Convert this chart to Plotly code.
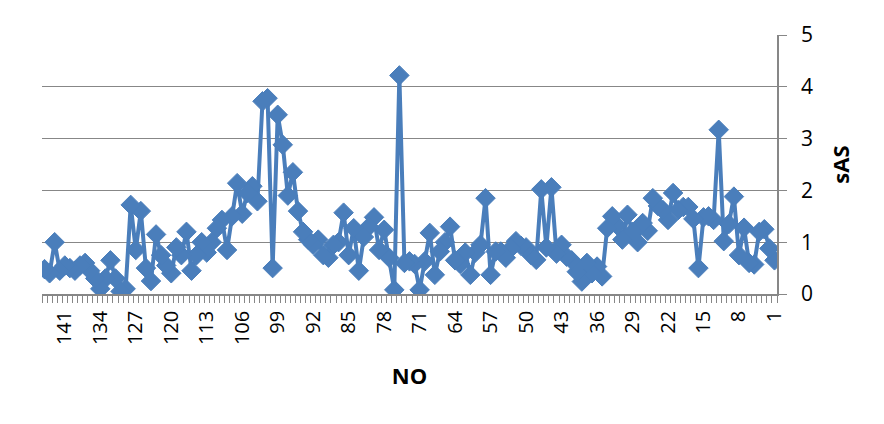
import plotly.graph_objects as go

# Category numbers (NO) and sAS values (NO = 1..145)
no = list(range(1, 146))
sas = [
    0.65, 0.88, 1.25, 1.20, 0.57, 0.60, 1.28, 0.75, 1.88, 1.35,   # 1-10
    1.02, 3.17, 1.43, 1.50, 1.48, 0.50, 1.45, 1.68, 1.68, 1.62,   # 11-20
    1.95, 1.43, 1.62, 1.70, 1.85, 1.22, 1.37, 1.00, 1.20, 1.53,   # 21-30
    1.05, 1.32, 1.50, 1.27, 0.34, 0.53, 0.40, 0.60, 0.24, 0.43,   # 31-40
    0.65, 0.72, 0.95, 0.78, 2.06, 0.90, 2.02, 0.66, 0.75, 0.90,   # 41-50
    0.93, 1.02, 0.88, 0.70, 0.82, 0.82, 0.37, 1.85, 0.95, 0.80,   # 51-60
    0.37, 0.80, 0.58, 0.65, 1.30, 1.00, 0.82, 0.37, 1.18, 0.63,   # 61-70
    0.08, 0.58, 0.63, 0.60, 4.22, 0.08, 0.70, 1.24, 0.85, 1.48,   # 71-80
    1.30, 1.10, 0.45, 1.27, 0.75, 1.57, 1.00, 0.95, 0.70, 0.75,   # 81-90
    1.05, 0.95, 1.05, 1.20, 1.60, 2.35, 1.90, 2.88, 3.46, 0.50,   # 91-100
    3.78, 3.72, 1.79, 2.08, 1.95, 1.55, 2.14, 1.50, 0.85, 1.43,   # 101-110
    1.27, 1.00, 0.80, 1.00, 0.75, 0.45, 1.20, 0.75, 0.90, 0.40,   # 111-120
    0.55, 0.75, 1.15, 0.25, 0.50, 1.60, 0.85, 1.72, 0.10, 0.05,   # 121-130
    0.30, 0.65, 0.30, 0.10, 0.30, 0.45, 0.60, 0.55, 0.45, 0.50,   # 131-140
    0.55, 0.45, 1.00, 0.40, 0.48                                  # 141-145
]
x_tick_vals = list(range(1, 146, 7))
x_tick_text = [str(v) for v in x_tick_vals]
y_tick_vals = [0, 1, 2, 3, 4, 5]

blue = "#4A7EBB"
gray = "#878787"
font_family = "Open Sans, Liberation Sans, sans-serif"

fig = go.Figure()
fig.add_trace(go.Scatter(
    x=no, y=sas, mode="lines+markers",
    line=dict(color=blue, width=4),
    marker=dict(symbol="diamond", size=15, color=blue, line=dict(color=blue, width=1)),
    showlegend=False,
))

fig.update_layout(
    width=876, height=416,
    margin=dict(l=34, r=107, t=27, b=130),
    paper_bgcolor="white", plot_bgcolor="white",
    font=dict(family=font_family, size=20, color="black"),
)
fig.update_xaxes(
    range=[145.5, 0.5],
    tickmode="array", tickvals=x_tick_vals, ticktext=x_tick_text,
    tickangle=-90, ticks="", ticklabelstandoff=7,
    showline=True, linecolor=gray, linewidth=1.5,
    showgrid=False, zeroline=False,
    minor=dict(ticks="outside", ticklen=7, tickcolor=gray, tickwidth=1,
               tick0=0.5, dtick=1, showgrid=False),
    tickfont=dict(size=20),
    title=dict(text="<b>NO</b>", font=dict(size=22), standoff=25),
)
fig.update_yaxes(
    side="right", range=[0, 5],
    tickmode="array", tickvals=y_tick_vals,
    ticks="outside", ticklen=8, tickcolor=gray,
    showline=True, linecolor=gray, linewidth=1.5,
    showgrid=True, gridcolor=gray, gridwidth=1.2,
    zeroline=False, ticklabelstandoff=10,
    tickfont=dict(size=21),
    title=dict(text="<b>sAS</b>", font=dict(size=22), standoff=22),
)

fig.write_html("out.html")
